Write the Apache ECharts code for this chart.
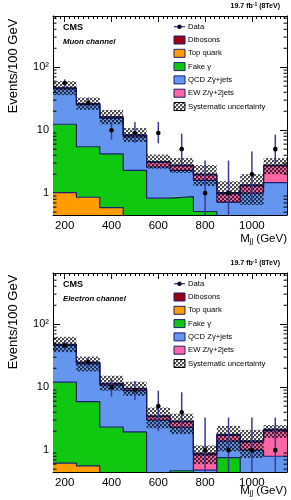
<!DOCTYPE html>
<html><head><meta charset="utf-8">
<script src="https://cdn.jsdelivr.net/npm/echarts@6/dist/echarts.min.js"></script>
<style>html,body{margin:0;padding:0;background:#fff}#c{width:291px;height:500px}</style>
</head><body><div id="c"></div>
<script>
// ---------- data ----------
const binCenters = [200, 300, 400, 500, 600, 700, 800, 900, 1000, 1100];
const binEdges = [150, 250, 350, 450, 550, 650, 750, 850, 950, 1050, 1150];
const yMinorTicks = [0.5,0.6,0.7,0.8,0.9,2,3,4,5,6,7,8,9,20,30,40,50,60,70,80,90,200,300,400,500,600];
const legendNames = ['Data','Dibosons','Top quark','Fake γ','QCD Zγ+jets','EW Z/γ+2jets','Systematic uncertainty'];

// Muon channel
const muTop   = [1.02, 0.86, 0.59, 0.30, 0.15, 0.10, 0.05, 0.04, 0.03, 0.03];
const muFake  = [11.4, 4.6, 3.6, 2.0, 0.68, 0.78, 0.46, 0.26, 0.22, 0.17];
const muQcd   = [33.0, 19.9, 11.4, 5.5, 1.77, 1.42, 1.09, 0.42, 0.75, 1.27];
const muEw    = [1.0, 0.8, 0.5, 0.45, 0.47, 0.40, 0.34, 0.25, 0.30, 1.23];
const muDib   = [0.5, 0.3, 0.2, 0.15, 0.10, 0.08, 0.06, 0.05, 0.05, 0.10];
const muSystHi = [60, 33, 21, 10.8, 4.1, 3.6, 2.8, 1.55, 2.0, 3.6];
const muSystLo = [36, 21, 12.4, 6.5, 2.45, 2.1, 1.3, 0.70, 0.65, 2.0];
const muData   = [56, 27, 10, 9, 9, 5, 1, 1, 2, 5];
const muDataLo = [48.5, 22, 7.1, 6.2, 6.2, 2.9, 0.17, 0.17, 0.7, 2.9];
const muDataHi = [64, 32.5, 13.3, 13.5, 13.5, 8.8, 3.3, 3.3, 4.6, 8.5];

// Electron channel
const elTop   = [0.62, 0.56, 0.20, 0.15, 0.10, 0.05, 0.03, 0.03, 0.02, 0.02];
const elFake  = [11.4, 5.34, 2.13, 1.8, 0.30, 0.42, 0.27, 0.73, 0.33, 0.28];
const elQcd   = [34.0, 17.6, 8.47, 6.85, 2.6, 1.83, 0.18, 0.63, 0.65, 0.50];
const elEw    = [1.4, 1.0, 0.5, 0.6, 0.4, 0.5, 0.36, 0.33, 0.34, 1.22];
const elDib   = [0.6, 0.4, 0.2, 0.2, 0.1, 0.1, 0.06, 0.06, 0.06, 0.12];
const elSystHi = [63, 30.6, 15.2, 12.2, 4.75, 3.8, 1.19, 2.42, 2.1, 2.5];
const elSystLo = [36, 17.8, 8.8, 7.3, 2.22, 1.8, 0.60, 0.96, 0.75, 1.57];
const elData   = [46, 25, 10, 9, 5, 4, 1, 1, 1, 1];
const elDataLo = [39.5, 20.2, 7.1, 6.2, 2.0, 1.8, 0.17, 0.17, 0.17, 0.17];
const elDataHi = [53, 30, 13.5, 12.5, 8.8, 8.3, 3.3, 3.3, 3.3, 3.3];

// ---------- style ----------
const FF = "'Liberation Sans', Arial, Helvetica, sans-serif";
const C = {top:'#ff9c00', fake:'#10c810', qcd:'#6496f0', ew:'#ff66a3', dib:'#990011', line:'#1c1f6e', err:'#3a3a9c'};
const X0 = 150, X1 = 1150, YMIN = 0.45, YMAX = 650;
const panels = [
  {top:16, bottom:215, channel:'Muon channel', t:muTop, f:muFake, q:muQcd, e:muEw, d:muDib, sh:muSystHi, sl:muSystLo, data:muData, dl:muDataLo, dh:muDataHi, ytitle:66, xtitle:238.5},
  {top:273, bottom:472, channel:'Electron channel', t:elTop, f:elFake, q:elQcd, e:elEw, d:elDib, sh:elSystHi, sl:elSystLo, data:elData, dl:elDataLo, dh:elDataHi, ytitle:322, xtitle:490.5}
];

function makeHatch() {
  const c = document.createElement('canvas');
  c.width = 4; c.height = 4;
  const g = c.getContext('2d');
  g.fillStyle = 'rgba(0,0,0,0.7)';
  g.fillRect(0,0,2,2); g.fillRect(2,2,2,2);
  g.fillStyle = 'rgba(0,0,0,0.25)';
  g.fillRect(2,0,1,1); g.fillRect(0,2,1,1);
  return c;
}
const hatch = {image: makeHatch(), repeat: 'repeat'};

function rectItem(params, api) {
  const x = api.value(0), lo = api.value(1), hi = api.value(2);
  const w = 100;
  const p1 = api.coord([x - w/2, hi]);
  const p2 = api.coord([x + w/2, lo]);
  return {type:'rect', shape:{x:p1[0]-0.3, y:p1[1], width:p2[0]-p1[0]+0.6, height:p2[1]-p1[1]},
    style:{fill: api.visual('color')}};
}
function hatchItem(params, api) {
  const x = api.value(0), lo = api.value(1), hi = api.value(2);
  const p1 = api.coord([x - 50, hi]);
  const p2 = api.coord([x + 50, lo]);
  return {type:'rect', shape:{x:p1[0], y:p1[1], width:p2[0]-p1[0], height:p2[1]-p1[1]},
    style:{fill: hatch}};
}
function dataItem(params, api) {
  const x = api.value(0), v = api.value(1), lo = api.value(2), hi = api.value(3);
  const pv = api.coord([x, v]), pl = api.coord([x, lo]), ph = api.coord([x, hi]);
  return {type:'group', children:[
    {type:'line', shape:{x1:pl[0], y1:pl[1], x2:ph[0], y2:ph[1]}, style:{stroke:C.err, lineWidth:1.5}},
    {type:'circle', shape:{cx:pv[0], cy:pv[1], r:2.3}, style:{fill:'#000'}}
  ]};
}
function minorTickItem(params, api) {
  const v = api.value(1);
  const p = api.coord([X0, v]), q = api.coord([X1, v]);
  return {type:'group', children:[
    {type:'line', shape:{x1:p[0], y1:p[1], x2:p[0]+3.5, y2:p[1]}, style:{stroke:'#000', lineWidth:1}},
    {type:'line', shape:{x1:q[0]-3.5, y1:q[1], x2:q[0], y2:q[1]}, style:{stroke:'#000', lineWidth:1}}
  ]};
}

const grids = [], xAxes = [], yAxes = [], series = [], gfx = [];

function yLabel(v) {
  const l = Math.log10(v);
  if (Math.abs(l - Math.round(l)) > 1e-6) return '';
  const n = Math.round(l);
  if (n === 0) return '1';
  if (n === 1) return '10';
  if (n === 2) return '10²';
  return '';
}

panels.forEach((P, pi) => {
  grids.push({left:53, top:P.top, width:234, height:P.bottom - P.top, containLabel:false});
  const xi = xAxes.length, yi = yAxes.length;
  ['bottom','top'].forEach((pos, k) => {
    xAxes.push({type:'value', gridIndex:pi, position:pos, min:X0, max:X1, splitNumber:5,
      axisLine:{show:true, onZero:false, lineStyle:{color:'#000', width:1}},
      axisTick:{show:true, inside:true, length:6, lineStyle:{color:'#000', width:1}},
      minorTick:{show:true, splitNumber:10, length:3, lineStyle:{color:'#000', width:1}},
      splitLine:{show:false}, minorSplitLine:{show:false},
      axisLabel:{show:k===0, margin:5, fontSize:11.5, color:'#000', fontFamily:FF,
        showMinLabel:false, showMaxLabel:false,
        formatter: v => (Math.round(v) % 200 === 0 ? String(Math.round(v)) : '')}
    });
  });
  ['left','right'].forEach((pos, k) => {
    yAxes.push({type:'log', logBase:10, gridIndex:pi, position:pos, min:YMIN, max:YMAX,
      axisLine:{show:true, onZero:false, lineStyle:{color:'#000', width:1}},
      axisTick:{show:true, inside:true, length:7, lineStyle:{color:'#000', width:1}},
      minorTick:{show:false}, splitLine:{show:false}, minorSplitLine:{show:false},
      axisLabel:{show:k===0, margin:4, fontSize:11, color:'#000', fontFamily:FF,
        showMinLabel:false, showMaxLabel:false, formatter: yLabel}
    });
  });

  const layers = [
    {name:'Top quark', vals:P.t, color:C.top},
    {name:'Fake γ', vals:P.f, color:C.fake},
    {name:'QCD Zγ+jets', vals:P.q, color:C.qcd},
    {name:'EW Z/γ+2jets', vals:P.e, color:C.ew},
    {name:'Dibosons', vals:P.d, color:C.dib}
  ];
  let base = binCenters.map(() => 0.001);
  layers.forEach(L => {
    const top = base.map((b, i) => b + L.vals[i]);
    series.push({type:'custom', name:L.name, xAxisIndex:xi, yAxisIndex:yi, clip:true, z:2,
      itemStyle:{color:L.color}, renderItem:rectItem,
      data: binCenters.map((x, i) => [x, base[i], top[i]])});
    series.push({type:'line', xAxisIndex:xi, yAxisIndex:yi, step:'end', clip:true, z:3,
      showSymbol:false, symbol:'none', lineStyle:{color:C.line, width:1.2},
      data: binEdges.map((e, i) => [e, top[Math.min(i, top.length - 1)]])});
    base = top;
  });
  series.push({type:'custom', name:'Systematic uncertainty', xAxisIndex:xi, yAxisIndex:yi, clip:true, z:4,
    renderItem:hatchItem, data: binCenters.map((x, i) => [x, P.sl[i], P.sh[i]])});
  series.push({type:'custom', name:'Data', xAxisIndex:xi, yAxisIndex:yi, clip:true, z:5,
    renderItem:dataItem, data: binCenters.map((x, i) => [x, P.data[i], P.dl[i], P.dh[i]])});
  series.push({type:'custom', xAxisIndex:xi, yAxisIndex:yi, clip:false, z:6,
    renderItem:minorTickItem, data: yMinorTicks.map(v => [X0, v])});

  // texts
  gfx.push({type:'text', x:280, y:P.top - 9.5, style:{text:'{a|19.7 fb}{s|-1}{a| (8TeV)}', align:'right', verticalAlign:'middle',
    rich:{a:{fontFamily:FF, fontWeight:'bold', fontSize:7, fill:'#000'}, s:{fontFamily:FF, fontWeight:'bold', fontSize:5, fill:'#000', verticalAlign:'top', padding:[0,0,3,0]}}}});
  gfx.push({type:'text', x:63, y:P.top + 12, style:{text:'CMS', font:'bold 9px ' + FF, fill:'#000', align:'left', verticalAlign:'middle'}});
  gfx.push({type:'text', x:63, y:P.top + 25.5, style:{text:P.channel, font:'italic bold 7.8px ' + FF, fill:'#000', align:'left', verticalAlign:'middle'}});
  gfx.push({type:'text', x:13, y:P.ytitle, rotation:Math.PI/2, style:{text:'Events/100 GeV', font:'13px ' + FF, fill:'#000', align:'center', verticalAlign:'middle'}});
  gfx.push({type:'text', x:287, y:P.xtitle, style:{text:'{a|M}{s|jj}{a| (GeV)}', align:'right', verticalAlign:'middle',
    rich:{a:{fontFamily:FF, fontSize:11.5, fill:'#000'}, s:{fontFamily:FF, fontSize:7.5, fill:'#000', verticalAlign:'bottom', padding:[4,0,0,0]}}}});

  // legend
  const legColors = [null, C.dib, C.top, C.fake, C.qcd, C.ew, 'hatch'];
  legendNames.forEach((nm, k) => {
    const ry = P.top + 10.7 + 13.3 * k;
    if (k === 0) {
      gfx.push({type:'line', shape:{x1:174, y1:ry, x2:185, y2:ry}, style:{stroke:C.err, lineWidth:1.3}});
      gfx.push({type:'circle', shape:{cx:179.5, cy:ry, r:2.2}, style:{fill:'#000'}});
    } else {
      const col = legColors[k];
      gfx.push({type:'rect', shape:{x:174, y:ry - 4, width:11, height:8},
        style:{fill: col === 'hatch' ? hatch : col, stroke: col === 'hatch' ? '#000' : C.line, lineWidth:1}});
    }
    gfx.push({type:'text', x:188, y:ry, style:{text:nm, font:'7.7px ' + FF, fill:'#000', align:'left', verticalAlign:'middle'}});
  });
});

const chart = echarts.init(document.getElementById('c'), null, {renderer:'canvas'});
chart.setOption({
  animation:false,
  backgroundColor:'#fff',
  textStyle:{fontFamily:FF},
  grid:grids, xAxis:xAxes, yAxis:yAxes, series:series,
  graphic:{elements:gfx}
});
</script></body></html>
